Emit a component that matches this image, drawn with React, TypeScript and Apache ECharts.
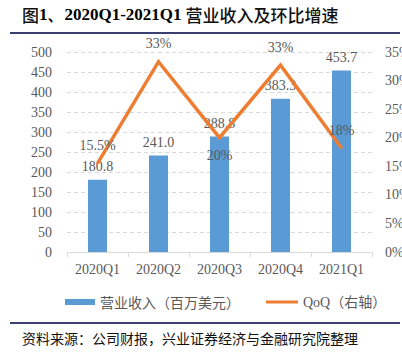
import React, { useEffect, useRef } from "react";
import * as echarts from "echarts";

const categories = ["2020Q1", "2020Q2", "2020Q3", "2020Q4", "2021Q1"];
const revenue = [180.8, 241.0, 288.8, 383.3, 453.7];
const revenueLabels = ["180.8", "241.0", "288.8", "383.3", "453.7"];
const qoq = [15.5, 33.3, 20.0, 32.7, 18.2];
const qoqLabels = ["15.5%", "33%", "20%", "33%", "18%"];
const qoqLabelPos = ["top", "top", "bottom", "top", "top"];
const leftTicks = { min: 0, max: 500, interval: 50 };
const rightTicks = { min: 0, max: 35, interval: 5 };

const titleHead = "图";
const titleNum = "1、2020Q1-2021Q1";
const titleTail = " 营业收入及环比增速";
const sourceText = "资料来源：公司财报，兴业证券经济与金融研究院整理";
const barName = "营业收入（百万美元）";
const lineName = "QoQ（右轴）";

const SERIF = '"Liberation Serif", "Noto Sans CJK SC", serif';
const GRAY = "#595959";
const BLUE = "#5B9BD5";
const ORANGE = "#ED7D31";
const NAVY = "#3C3F72";

export default function App() {
  const ref = useRef<HTMLDivElement>(null);
  useEffect(() => {
    if (!ref.current) return;
    const chart = echarts.init(ref.current, null, { renderer: "svg" });
    chart.setOption({
      animation: false,
      backgroundColor: "#ffffff",
      textStyle: { fontFamily: SERIF },
      grid: {
        left: 67,
        right: 30,
        top: 52,
        bottom: 106,
        containLabel: false,
        outerBoundsMode: "none",
      },
      graphic: [
        {
          type: "text",
          left: 22,
          top: 6,
          style: {
            text: `{a|${titleHead}}{b|${titleNum}}{a|${titleTail}}`,
            rich: {
              a: {
                fontFamily: '"Noto Sans CJK SC", serif',
                fontWeight: 500,
                fontSize: 17,
                fill: "#111111",
                color: "#111111",
              },
              b: {
                fontFamily: '"Liberation Serif", serif',
                fontWeight: "bold",
                fontSize: 17,
                color: "#111111",
              },
            },
          },
        },
        {
          type: "line",
          shape: { x1: 10, y1: 33, x2: 400, y2: 33 },
          style: { stroke: NAVY, lineWidth: 2 },
        },
        {
          type: "line",
          shape: { x1: 10, y1: 323, x2: 400, y2: 323 },
          style: { stroke: NAVY, lineWidth: 2 },
        },
        {
          type: "text",
          left: 22,
          top: 331,
          style: {
            text: sourceText,
            font: '14px "Noto Sans CJK SC", serif',
            fill: "#111111",
          },
        },
      ],
      legend: [
        {
          data: [{ name: barName, icon: "rect" }],
          left: 60,
          top: 290,
          itemWidth: 30,
          itemHeight: 6,
          textStyle: { color: GRAY, fontSize: 14, fontFamily: '"Noto Sans CJK SC", serif' },
        },
        {
          data: [{ name: lineName, icon: "rect" }],
          left: 261,
          top: 290,
          itemWidth: 32,
          itemHeight: 3,
          textStyle: { color: GRAY, fontSize: 14, fontFamily: SERIF },
        },
      ],
      xAxis: {
        type: "category",
        data: categories,
        axisLine: { lineStyle: { color: "#D9D9D9" } },
        axisTick: { show: true, length: 5, lineStyle: { color: "#D9D9D9" } },
        axisLabel: { color: GRAY, fontSize: 14, fontFamily: SERIF, margin: 10 },
      },
      yAxis: [
        {
          type: "value",
          min: leftTicks.min,
          max: leftTicks.max,
          interval: leftTicks.interval,
          axisLine: { show: false },
          axisTick: { show: false },
          axisLabel: { color: GRAY, fontSize: 14, fontFamily: SERIF, margin: 15 },
          splitLine: { lineStyle: { color: "#D9D9D9", type: [4, 3] } },
        },
        {
          type: "value",
          min: rightTicks.min,
          max: rightTicks.max,
          interval: rightTicks.interval,
          axisLine: { show: false },
          axisTick: { show: false },
          splitLine: { show: false },
          axisLabel: {
            color: GRAY,
            fontSize: 14,
            fontFamily: SERIF,
            margin: 13,
            formatter: "{value}%",
          },
        },
      ],
      series: [
        {
          name: barName,
          type: "bar",
          data: revenue,
          barWidth: 19,
          itemStyle: { color: BLUE },
          label: {
            show: true,
            position: "top",
            distance: 6,
            color: GRAY,
            fontSize: 14,
            fontFamily: SERIF,
            formatter: (p: any) => revenueLabels[p.dataIndex],
          },
        },
        {
          name: lineName,
          type: "line",
          yAxisIndex: 1,
          data: qoq.map((v, i) => ({
            value: v,
            label: { position: qoqLabelPos[i] },
          })),
          symbol: "circle",
          symbolSize: 2,
          itemStyle: { color: ORANGE },
          lineStyle: { color: ORANGE, width: 3.5, join: "miter" },
          z: 3,
          label: {
            show: true,
            distance: 10,
            color: GRAY,
            fontSize: 14,
            fontFamily: SERIF,
            formatter: (p: any) => qoqLabels[p.dataIndex],
          },
        },
      ],
    });
    return () => chart.dispose();
  }, []);
  return (
    <div
      ref={ref}
      style={{ position: "fixed", left: 0, top: 0, width: 402, height: 358 }}
    />
  );
}
